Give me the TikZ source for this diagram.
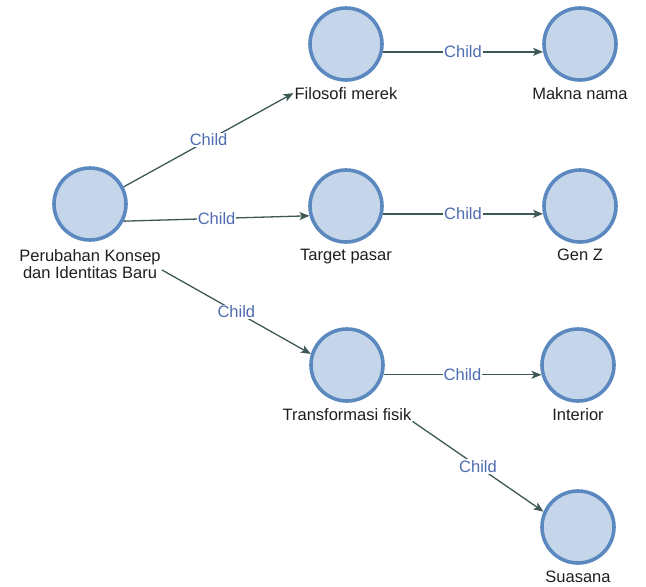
\documentclass[tikz,border=0pt]{standalone}
\usepackage{fontspec}
\setmainfont{Liberation Sans}
\usetikzlibrary{arrows.meta}
\definecolor{nodefill}{HTML}{C6D6EA}
\definecolor{nodeline}{HTML}{5B88BF}
\definecolor{edgeline}{HTML}{3E5858}
\definecolor{edgetext}{HTML}{4E6CB0}
\definecolor{labeltext}{HTML}{1E1E1E}
\tikzset{
  topic/.style={circle, draw=nodeline, fill=nodefill, line width=3.6pt, minimum size=72pt, inner sep=0pt},
  caption/.style={anchor=base, text=labeltext, inner sep=1pt, font=\fontsize{16.5}{17}\selectfont},
  link/.style={draw=edgeline, line width=1.3pt, -{Stealth[length=10pt,width=8pt,inset=2.5pt]}},
  rel/.style={fill=white, text=edgetext, inner sep=1pt, font=\fontsize{16.5}{17}\selectfont}
}
\begin{document}
\begin{tikzpicture}[x=1pt,y=-1pt]
  \useasboundingbox (0,0) rectangle (646,587);

  % topics
  \node[topic] (root) at (90,204) {};
  \node[topic] (filo) at (346,44) {};
  \node[topic] (makna) at (580,44) {};
  \node[topic] (target) at (346,206) {};
  \node[topic] (genz) at (580,206) {};
  \node[topic] (tf) at (347,365) {};
  \node[topic] (interior) at (578,365) {};
  \node[topic] (sua) at (578,527) {};

  % captions (the two-line caption sits on the baseline of its last line)
  \node[caption, align=center] (lroot) at (90,278) {Perubahan Konsep\\dan Identitas Baru};
  \node[caption] (lfilo) at (346,99) {Filosofi merek};
  \node[caption] (lmakna) at (580,99) {Makna nama};
  \node[caption] (ltarget) at (346,260) {Target pasar};
  \node[caption] (lgenz) at (580,260) {Gen Z};
  \node[caption] (ltf) at (347,420) {Transformasi fisik};
  \node[caption] (linterior) at (578,420) {Interior};
  \node[caption] (lsua) at (578,582) {Suasana};

  % connectors
  \draw[link] (root.27) -- node[rel] {Child} (lfilo.west);
  \draw[link] (root.-27) -- node[rel] {Child} (target.195);
  \draw[link] (lroot.-5) -- node[rel] {Child} (tf.163);
  \draw[link] (filo.-12) -- node[rel] {Child} (makna.192);
  \draw[link] (target.-12) -- node[rel] {Child} (genz.192);
  \draw[link] (tf.-15) -- node[rel] {Child} (interior.195);
  \draw[link] (ltf.south east) -- node[rel] {Child} (sua.156);
\end{tikzpicture}
\end{document}
